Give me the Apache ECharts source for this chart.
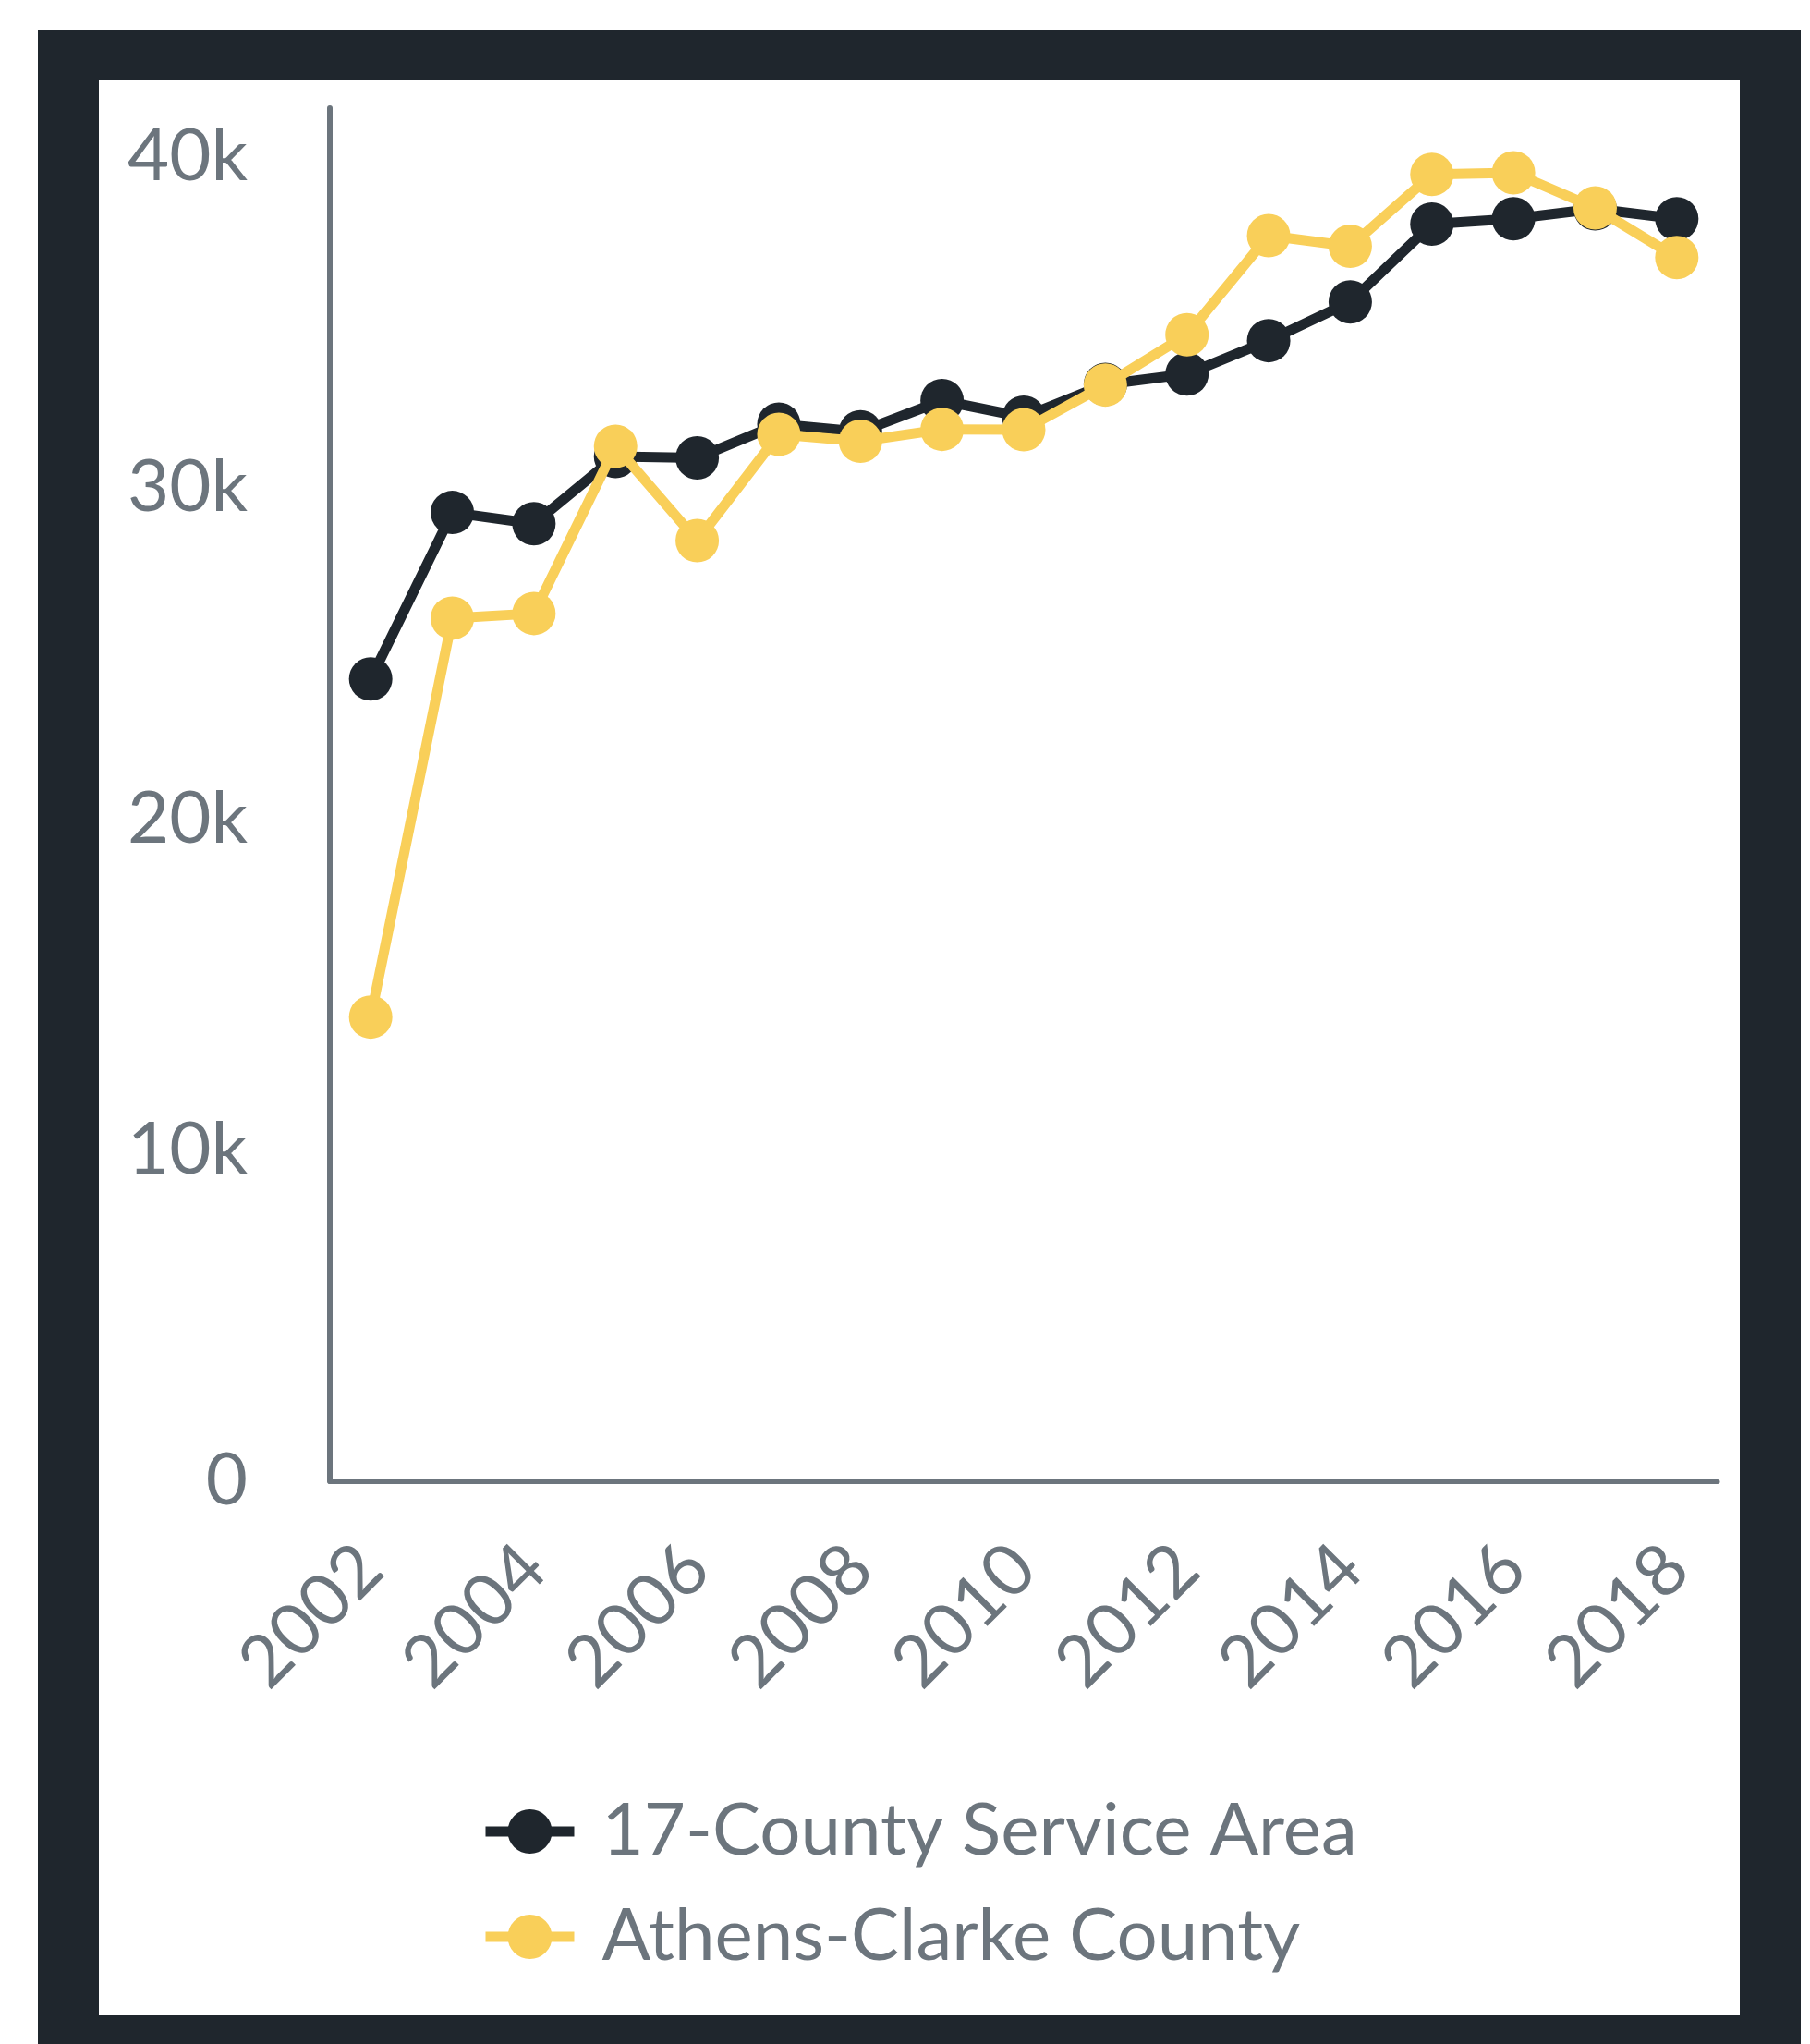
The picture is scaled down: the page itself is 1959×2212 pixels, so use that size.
<!DOCTYPE html>
<html>
<head>
<meta charset="utf-8">
<script src="https://cdn.jsdelivr.net/npm/echarts@6/dist/echarts.min.js"></script>
<style>
  html, body { margin: 0; padding: 0; background: #ffffff; }
  #chart { width: 1959px; height: 2212px; }
</style>
</head>
<body>
<div id="chart"></div>
<script>
// ---- Data ----
const years = ['2002','2003','2004','2005','2006','2007','2008','2009','2010','2011','2012','2013','2014','2015','2016','2017','2018'];
const serviceArea = [24230, 29260, 28920, 30950, 30910, 31930, 31700, 32640, 32140, 33130, 33440, 34450, 35620, 37970, 38130, 38430, 38130];
const athensClarke = [14020, 26070, 26210, 31260, 28410, 31620, 31410, 31770, 31760, 33110, 34630, 37620, 37300, 39470, 39520, 38460, 36960];
const seriesNames = ['17-County Service Area', 'Athens-Clarke County'];
const yTicks = [0, 10000, 20000, 30000, 40000];
const yTickLabels = ['0', '10k', '20k', '30k', '40k'];

const DARK = '#1f262d';
const YELLOW = '#f9cf59';
const GRAY = '#6c757d';
const FONT = 'Lato';

const chart = echarts.init(document.getElementById('chart'), null, { renderer: 'canvas' });
chart.setOption({
  animation: false,
  backgroundColor: '#ffffff',
  graphic: [
    { type: 'rect', z: -10, shape: { x: 41, y: 33, width: 1908, height: 2240 }, style: { fill: DARK } },
    { type: 'rect', z: -9, shape: { x: 107, y: 87, width: 1776, height: 2094 }, style: { fill: '#ffffff' } }
  ],
  grid: { left: 357, right: 100, top: 117, bottom: 609, containLabel: false },
  xAxis: {
    type: 'category',
    data: years,
    boundaryGap: true,
    axisLine: { show: true, lineStyle: { color: GRAY, width: 5 } },
    axisTick: { show: false },
    splitLine: { show: false },
    axisLabel: {
      interval: 1,
      rotate: 45,
      margin: 82,
      color: GRAY,
      fontFamily: FONT,
      fontSize: 78
    }
  },
  yAxis: {
    type: 'value',
    min: 0,
    max: 41473,
    interval: 10000,
    axisLine: { show: true, lineStyle: { color: GRAY, width: 6 } },
    axisTick: { show: false },
    splitLine: { show: false },
    axisLabel: {
      margin: 89,
      color: GRAY,
      fontFamily: FONT,
      fontSize: 78,
      padding: [4, 0, 0, 0],
      showMaxLabel: false,
      formatter: function (v) {
        const i = yTicks.indexOf(v);
        return i >= 0 ? yTickLabels[i] : '';
      }
    }
  },
  legend: {
    orient: 'vertical',
    left: 515,
    top: 1937,
    itemWidth: 96,
    itemHeight: 60,
    itemGap: 34,
    lineStyle: { width: 11 },
    textStyle: { color: GRAY, fontFamily: FONT, fontSize: 78, lineHeight: 80, padding: [0, 0, 0, 25] },
    data: seriesNames
  },
  series: [
    {
      name: seriesNames[0],
      type: 'line',
      data: serviceArea,
      symbol: 'circle',
      symbolSize: 47,
      showSymbol: true,
      color: DARK,
      itemStyle: { color: DARK },
      lineStyle: { color: DARK, width: 11 },
      z: 2
    },
    {
      name: seriesNames[1],
      type: 'line',
      data: athensClarke,
      symbol: 'circle',
      symbolSize: 47,
      showSymbol: true,
      color: YELLOW,
      itemStyle: { color: YELLOW },
      lineStyle: { color: YELLOW, width: 11 },
      z: 3
    }
  ]
});
</script>
</body>
</html>
